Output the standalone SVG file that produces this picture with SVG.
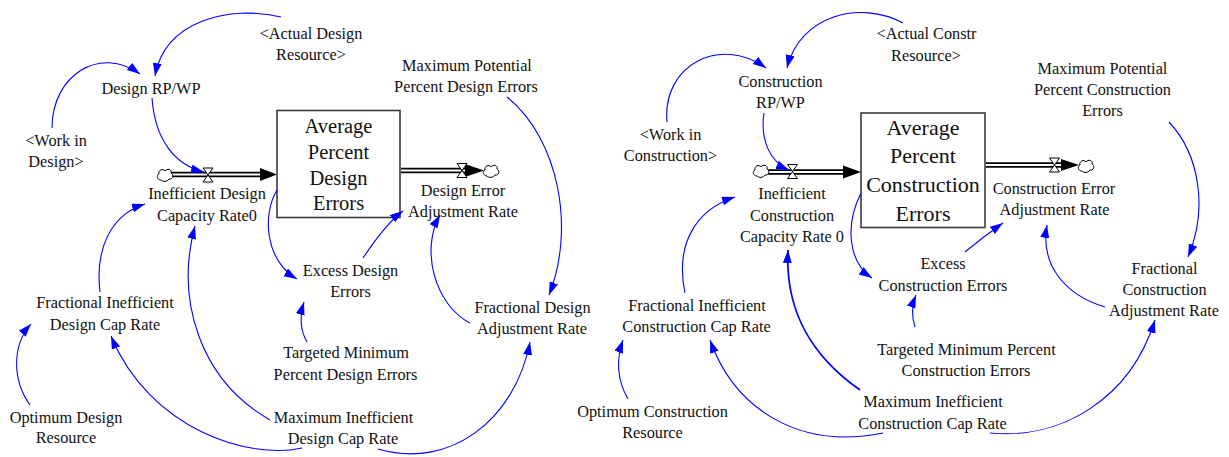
<svg xmlns="http://www.w3.org/2000/svg" xmlns:xlink="http://www.w3.org/1999/xlink" width="1229" height="457" viewBox="0 0 1229 457" font-family="'Liberation Serif', 'DejaVu Serif', serif">
<style>
text{font-family:'Liberation Serif','DejaVu Serif',serif;font-size:16.3px;fill:#111;text-anchor:middle}
.big{font-size:20.5px}
.big2{font-size:22px}
.lnk{fill:none;stroke:#0000ff;stroke-width:1.1;marker-end:url(#ah)}
.pipeo{fill:none;stroke:#000;stroke-width:5.5}
.pipei{fill:none;stroke:#fff;stroke-width:2}
.stock{fill:#fff;stroke:#3a3a3a;stroke-width:1.6}
.cloud{fill:#fff;stroke:#000;stroke-width:1}
.valve{fill:#fff;stroke:#000;stroke-width:1}
</style>
<defs>
<marker id="ah" markerUnits="userSpaceOnUse" markerWidth="14" markerHeight="10" refX="13" refY="4.5" orient="auto">
<path d="M0,0 L13,4.5 L0,9 Z" fill="#0000ff"/>
</marker>
<path id="cl" class="cloud" d="M-4,5 C-8,5 -9,0 -6,-1 C-7,-5 -2,-7 0,-4 C2,-7 7,-6 6,-2 C9,-1 8,5 4,4 C2,7 -2,7 -4,5 Z"/>
<path id="vl" class="valve" d="M-5,-7 H5 L-5,7 H5 Z"/>
</defs>
<rect width="1229" height="457" fill="#fff"/>

<!-- LEFT DIAGRAM -->
<g id="flows-left">
<line class="pipeo" x1="170" y1="174.5" x2="262" y2="174.5"/>
<line class="pipei" x1="170" y1="174.5" x2="262" y2="174.5"/>
<path d="M260,168 L277,174.5 L260,181 Z" fill="#000"/>
<line class="pipeo" x1="401" y1="170.5" x2="467" y2="170.5"/>
<line class="pipei" x1="401" y1="170.5" x2="467" y2="170.5"/>
<path d="M465,164 L484,170.5 L465,177 Z" fill="#000"/>
</g>
<g id="cloud-l1"><use xlink:href="#cl" x="165" y="175"/></g>
<g id="cloud-l2"><use xlink:href="#cl" x="491" y="171"/></g>
<g id="valve-l1"><use xlink:href="#vl" x="208" y="175"/></g>
<g id="valve-l2"><use xlink:href="#vl" x="462" y="170.5"/></g>

<g id="stock-left">
<rect class="stock" x="277" y="110.5" width="123" height="107"/>
<text class="big" x="338.5" y="133">Average</text>
<text class="big" x="338.5" y="159">Percent</text>
<text class="big" x="338.5" y="185">Design</text>
<text class="big" x="338.5" y="210">Errors</text>
</g>
<g id="ineff-design-rate"><text x="207" y="199">Inefficient Design</text><text x="207" y="221">Capacity Rate0</text></g>
<g id="design-error-adj"><text x="463" y="196">Design Error</text><text x="463" y="217">Adjustment Rate</text></g>
<g id="actual-design-res"><text x="311" y="39">&lt;Actual Design</text><text x="311" y="60">Resource&gt;</text></g>
<g id="design-rpwp"><text x="151" y="94">Design RP/WP</text></g>
<g id="work-in-design"><text x="56" y="146">&lt;Work in</text><text x="56" y="167">Design&gt;</text></g>
<g id="max-pot-design"><text x="467" y="71">Maximum Potential</text><text x="466" y="92">Percent Design Errors</text></g>
<g id="excess-design"><text x="350.5" y="276">Excess Design</text><text x="350.5" y="297">Errors</text></g>
<g id="frac-design-adj"><text x="532.5" y="313">Fractional Design</text><text x="532" y="334">Adjustment Rate</text></g>
<g id="targ-min-design"><text x="346" y="358">Targeted Minimum</text><text x="345.5" y="380">Percent Design Errors</text></g>
<g id="max-ineff-design"><text x="343.5" y="423">Maximum Inefficient</text><text x="343" y="444">Design Cap Rate</text></g>
<g id="frac-ineff-design"><text x="105" y="308">Fractional Inefficient</text><text x="105" y="330">Design Cap Rate</text></g>
<g id="opt-design-res"><text x="66" y="423">Optimum Design</text><text x="66" y="443">Resource</text></g>

<!-- RIGHT DIAGRAM -->
<g id="flows-right">
<line class="pipeo" x1="766" y1="172" x2="846" y2="172"/>
<line class="pipei" x1="766" y1="172" x2="846" y2="172"/>
<path d="M843,165.5 L861,172 L843,178.5 Z" fill="#000"/>
<line class="pipeo" x1="986" y1="165" x2="1063" y2="165"/>
<line class="pipei" x1="986" y1="165" x2="1063" y2="165"/>
<path d="M1061,159 L1079,165 L1061,171 Z" fill="#000"/>
</g>
<g id="cloud-r1"><use xlink:href="#cl" x="761" y="171"/></g>
<g id="cloud-r2"><use xlink:href="#cl" x="1086" y="166"/></g>
<g id="valve-r1"><use xlink:href="#vl" x="792.5" y="171.5"/></g>
<g id="valve-r2"><use xlink:href="#vl" x="1054.5" y="165"/></g>

<g id="stock-right">
<rect class="stock" x="861" y="113" width="124" height="114.5"/>
<text class="big2" x="923" y="135">Average</text>
<text class="big2" x="923" y="163">Percent</text>
<text class="big2" x="923" y="192">Construction</text>
<text class="big2" x="923" y="221">Errors</text>
</g>
<g id="ineff-constr-rate"><text x="792" y="199">Inefficient</text><text x="792" y="221">Construction</text><text x="792" y="242">Capacity Rate 0</text></g>
<g id="constr-error-adj"><text x="1054" y="194">Construction Error</text><text x="1054.5" y="215">Adjustment Rate</text></g>
<g id="actual-constr-res"><text x="926.5" y="39">&lt;Actual Constr</text><text x="926" y="61">Resource&gt;</text></g>
<g id="constr-rpwp"><text x="780.5" y="87">Construction</text><text x="780.5" y="108">RP/WP</text></g>
<g id="work-in-constr"><text x="670.5" y="140">&lt;Work in</text><text x="670.5" y="161">Construction&gt;</text></g>
<g id="max-pot-constr"><text x="1102.5" y="74">Maximum Potential</text><text x="1102.5" y="95">Percent Construction</text><text x="1102.5" y="116">Errors</text></g>
<g id="excess-constr"><text x="943" y="269">Excess</text><text x="943" y="291">Construction Errors</text></g>
<g id="frac-constr-adj"><text x="1164.5" y="274">Fractional</text><text x="1164.5" y="295">Construction</text><text x="1164" y="316">Adjustment Rate</text></g>
<g id="targ-min-constr"><text x="966.5" y="355">Targeted Minimum Percent</text><text x="966" y="376">Construction Errors</text></g>
<g id="frac-ineff-constr"><text x="697" y="311">Fractional Inefficient</text><text x="696.5" y="332">Construction Cap Rate</text></g>
<g id="opt-constr-res"><text x="652.5" y="417">Optimum Construction</text><text x="652.5" y="438">Resource</text></g>
<g id="max-ineff-constr"><text x="933" y="407">Maximum Inefficient</text><text x="932.5" y="429">Construction Cap Rate</text></g>

<g id="connectors">
<!-- left -->
<path class="lnk" d="M281,17 C230,5 165,20 155,76"/>
<path class="lnk" d="M52,128 C52,75 100,45 140,74"/>
<path class="lnk" d="M152,98 C155,140 175,165 204,172"/>
<path class="lnk" d="M100,292 C95,250 110,215 145,204"/>
<path class="lnk" d="M30,405 C12,380 12,345 31,324"/>
<path class="lnk" d="M302,448 C250,460 150,430 111,336"/>
<path class="lnk" d="M270,420 C200,380 175,300 195,226"/>
<path class="lnk" d="M277,190 C262,215 265,260 297,279"/>
<path class="lnk" d="M363,258 C375,240 388,222 403,211"/>
<path class="lnk" d="M470,323 C435,305 420,250 440,215"/>
<path class="lnk" d="M507,97 C560,140 575,230 549,295"/>
<path class="lnk" d="M307,342 C300,330 300,315 304,302"/>
<path class="lnk" d="M378,449 C450,470 515,420 530,342"/>
<!-- right -->
<path class="lnk" d="M903,23 C860,0 800,15 787,68"/>
<path class="lnk" d="M667,122 C662,65 720,35 766,68"/>
<path class="lnk" d="M764,113 C760,140 770,162 789,170"/>
<path class="lnk" d="M685,293 C675,245 695,210 735,197"/>
<path class="lnk" d="M628,399 C617,380 616,360 623,340"/>
<path class="lnk" d="M883,433 C800,450 735,410 710,340"/>
<path class="lnk" style="stroke-width:1.8" d="M860,390 C810,355 785,310 788,250"/>
<path class="lnk" d="M861,193 C845,225 848,262 872,278"/>
<path class="lnk" d="M965,252 C977,242 990,232 1003,223"/>
<path class="lnk" d="M1105,307 C1065,295 1040,265 1047,225"/>
<path class="lnk" d="M1169,122 C1200,155 1208,210 1188,257"/>
<path class="lnk" d="M915,327 C911,315 912,305 916,295"/>
<path class="lnk" d="M990,433 C1060,440 1130,400 1155,320"/>
</g>
</svg>
